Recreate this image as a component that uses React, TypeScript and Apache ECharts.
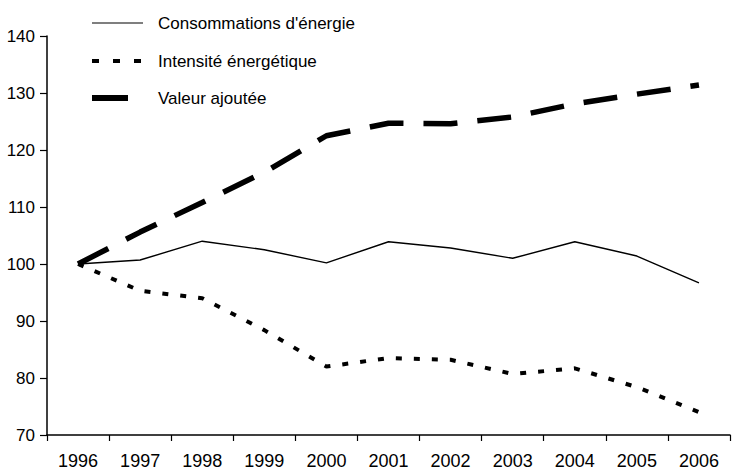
import React, { useEffect, useRef } from "react";
import * as echarts from "echarts";

const years = ["1996", "1997", "1998", "1999", "2000", "2001", "2002", "2003", "2004", "2005", "2006"];
const consommations = [100, 100.7, 104.0, 102.5, 100.2, 103.9, 102.8, 101.0, 103.9, 101.4, 96.7];
const intensite = [100, 95.3, 94.0, 88.4, 82.0, 83.5, 83.2, 80.7, 81.7, 78.4, 74.0];
const valeurAjoutee = [100, 105.6, 110.8, 116.1, 122.5, 124.7, 124.6, 125.8, 128.1, 129.8, 131.4];
const seriesNames = ["Consommations d'énergie", "Intensité énergétique", "Valeur ajoutée"];
const yTicks = { min: 70, max: 140, interval: 10 };

const FONT = "'Liberation Sans', Arial, sans-serif";

export default function App() {
  const ref = useRef<HTMLDivElement>(null);
  useEffect(() => {
    if (!ref.current) return;
    const chart = echarts.init(ref.current, null, { renderer: "svg" });
    const legendRows = [
      { y: 23, dash: null as number[] | null, width: 1.2, x2: 143 },
      { y: 61, dash: [7, 14], width: 4, x2: 143 },
      { y: 98, dash: null as number[] | null, width: 6, x2: 128 },
    ];
    const graphics: any[] = [];
    legendRows.forEach((r, i) => {
      graphics.push({
        type: "line",
        shape: { x1: 92, y1: r.y, x2: r.x2, y2: r.y },
        style: { stroke: "#000", lineWidth: r.width, lineDash: r.dash || undefined },
        silent: true,
      });
      graphics.push({
        type: "text",
        x: 158,
        y: r.y,
        style: {
          text: seriesNames[i],
          fill: "#000",
          font: `17px ${FONT}`,
          verticalAlign: "middle",
          align: "left",
        },
        silent: true,
      });
    });
    chart.setOption({
      animation: false,
      backgroundColor: "#fff",
      textStyle: { fontFamily: FONT },
      grid: { left: 47, right: 10, top: 36, bottom: 40, containLabel: false, outerBoundsMode: "none" },
      xAxis: {
        type: "category",
        data: years,
        boundaryGap: true,
        axisLine: { show: true, lineStyle: { color: "#000", width: 1.5 } },
        axisTick: { show: true, length: 6, interval: 0, lineStyle: { color: "#000", width: 1.2 } },
        axisLabel: { color: "#000", fontSize: 18, margin: 17, interval: 0, fontFamily: FONT },
        splitLine: { show: false },
      },
      yAxis: {
        type: "value",
        min: yTicks.min,
        max: yTicks.max,
        interval: yTicks.interval,
        axisLine: { show: true, lineStyle: { color: "#000", width: 1.5 } },
        axisTick: { show: true, length: 7, lineStyle: { color: "#000", width: 1.2 } },
        axisLabel: { color: "#000", fontSize: 17, margin: 12, fontFamily: FONT },
        splitLine: { show: false },
      },
      series: [
        {
          name: seriesNames[0],
          type: "line",
          data: consommations,
          showSymbol: false,
          symbol: "none",
          lineStyle: { color: "#000", width: 1.4 },
        },
        {
          name: seriesNames[1],
          type: "line",
          data: intensite,
          showSymbol: false,
          symbol: "none",
          lineStyle: { color: "#000", width: 4, type: [6, 12] },
        },
        {
          name: seriesNames[2],
          type: "line",
          data: valeurAjoutee,
          showSymbol: false,
          symbol: "none",
          lineStyle: { color: "#000", width: 5.5, type: [34, 20] },
        },
      ],
      graphic: graphics,
    });
    return () => chart.dispose();
  }, []);
  return (
    <div
      ref={ref}
      style={{ position: "fixed", left: 0, top: 0, width: 740, height: 475, background: "#fff" }}
    />
  );
}
